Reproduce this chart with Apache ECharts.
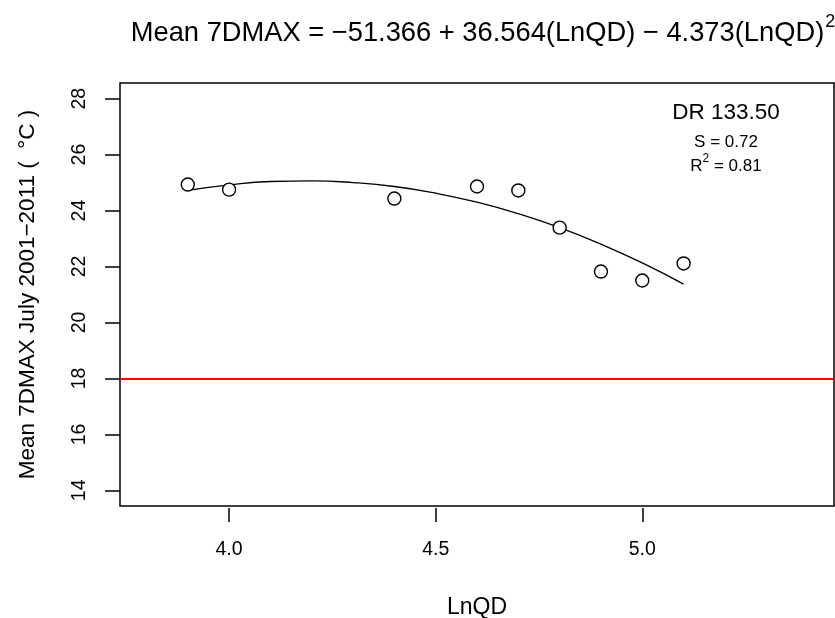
<!DOCTYPE html>
<html>
<head>
<meta charset="utf-8">
<script src="https://cdn.jsdelivr.net/npm/echarts@6/dist/echarts.min.js"></script>
<style>html,body{margin:0;padding:0;background:#fff}#c{width:835px;height:618px}</style>
</head>
<body>
<div id="c"></div>
<script>
// Observed points
const lnQD = [3.9, 4.0, 4.4, 4.6, 4.7, 4.8, 4.9, 5.0, 5.1];
const meanMax = [24.93, 24.75, 24.43, 24.86, 24.72, 23.39, 21.82, 21.50, 22.11];
// Fitted curve
const curveX = [3.9, 4.0, 4.1, 4.2, 4.3, 4.4, 4.5, 4.6, 4.7, 4.8, 4.9, 5.0, 5.1];
const curveY = [24.72, 24.92, 25.04, 25.06, 25.00, 24.86, 24.62, 24.30, 23.89, 23.39, 22.80, 22.13, 21.37];
const threshold = 18;
const xTicks = [4.0, 4.5, 5.0];
const yTicks = [14, 16, 18, 20, 22, 24, 26, 28];

const font = 'Liberation Sans, Arial, sans-serif';
const chart = echarts.init(document.getElementById('c'));
chart.setOption({
  animation: false,
  backgroundColor: '#fff',
  title: {
    text: '{a|Mean 7DMAX = \u221251.366 + 36.564(LnQD) \u2212 4.373(LnQD)}{s|2}',
    left: 478, textAlign: 'center', top: 8,
    textStyle: {
      fontWeight: 'normal',
      rich: {
        a: {fontFamily: font, fontSize: 27.3, fontWeight: 'normal', color: '#000', lineHeight: 34, verticalAlign: 'bottom'},
        s: {fontFamily: font, fontSize: 18, fontWeight: 'normal', color: '#000', lineHeight: 34, verticalAlign: 'top', padding: [0,0,17,1]}
      }
    }
  },
  grid: {left: 120, right: 1, top: 83, bottom: 112, outerBoundsMode: 'none', containLabel: false,
         show: true, borderColor: '#000', borderWidth: 1.5, backgroundColor: 'transparent'},
  xAxis: {
    type: 'value', min: 3.736, max: 5.464, offset: 2,
    name: 'LnQD', nameLocation: 'middle', nameGap: 88,
    nameTextStyle: {fontFamily: font, fontSize: 23, color: '#000'},
    axisLine: {show: false},
    axisTick: {show: true, customValues: xTicks, length: 14, lineStyle: {color: '#000', width: 1.5}},
    axisLabel: {customValues: xTicks, margin: 32, fontFamily: font, fontSize: 19.5, color: '#000', formatter: v => v.toFixed(1)},
    splitLine: {show: false}
  },
  yAxis: {
    type: 'value', min: 13.44, max: 28.56,
    name: 'Mean 7DMAX July 2001\u22122011 (  \u00B0C )', nameLocation: 'middle', nameGap: 81, nameRotate: 90,
    nameTextStyle: {fontFamily: font, fontSize: 22.5, color: '#000'},
    axisLine: {show: false},
    axisTick: {show: true, customValues: yTicks, length: 15, lineStyle: {color: '#000', width: 1.5}},
    axisLabel: {customValues: yTicks, rotate: 90, margin: 30, fontFamily: font, fontSize: 19.5, color: '#000'},
    splitLine: {show: false}
  },
  graphic: [
    {type: 'text', x: 726, y: 113, style: {text: 'DR 133.50', fontFamily: font, fontSize: 22.5, fill: '#000', align: 'center', verticalAlign: 'middle'}},
    {type: 'text', x: 726, y: 142, style: {text: 'S = 0.72', fontFamily: font, fontSize: 17, fill: '#000', align: 'center', verticalAlign: 'middle'}},
    {type: 'text', x: 726, y: 164, style: {text: '{a|R}{s|2}{a| = 0.81}', fontFamily: font, fill: '#000', align: 'center', verticalAlign: 'middle',
      rich: {a: {fontFamily: font, fontSize: 17, fill: '#000', lineHeight: 22, verticalAlign: 'bottom'},
             s: {fontFamily: font, fontSize: 12, fill: '#000', lineHeight: 22, verticalAlign: 'top', padding: [0,0,10,0]}}}}
  ],
  series: [
    {
      type: 'line', data: curveX.map((x, i) => [x, curveY[i]]), smooth: true, symbol: 'none',
      lineStyle: {color: '#000', width: 1.3}, z: 2
    },
    {
      type: 'scatter', data: lnQD.map((x, i) => [x, meanMax[i]]), symbol: 'circle', symbolSize: 13,
      itemStyle: {color: '#fff', borderColor: '#000', borderWidth: 1.4, opacity: 1}, z: 3
    },
    {
      type: 'line', data: [], symbol: 'none',
      markLine: {
        silent: true, symbol: 'none', label: {show: false},
        lineStyle: {color: '#ff0000', width: 2, type: 'solid'},
        data: [{yAxis: threshold}]
      }
    }
  ]
});
</script>
</body>
</html>
